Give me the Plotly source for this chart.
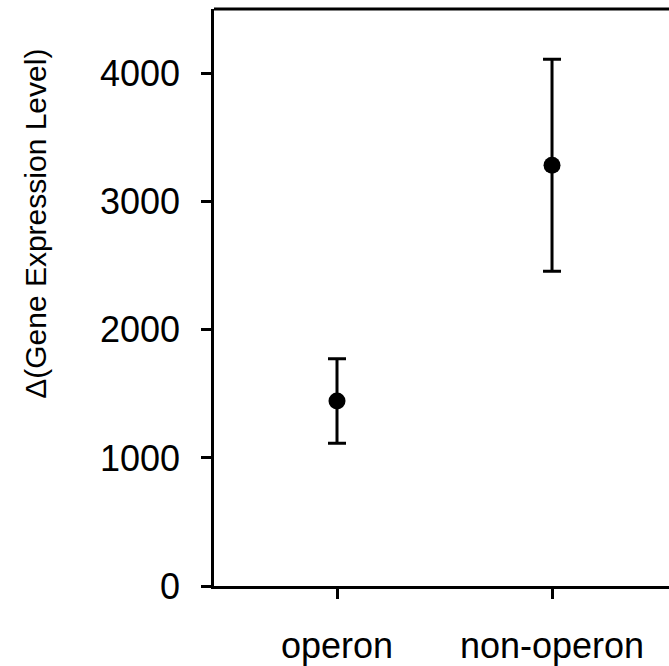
import plotly.graph_objects as go

categories = ["operon", "non-operon"]
means = [1445, 3285]
errors = [330, 827]
y_ticks = [0, 1000, 2000, 3000, 4000]
y_title = "Δ(Gene Expression Level)"

FONT = "Liberation Sans, Arial, Helvetica, sans-serif"

fig = go.Figure()
fig.add_trace(go.Scatter(
    x=[0, 1], y=means,
    mode="markers",
    marker=dict(color="black", size=17),
    error_y=dict(type="data", array=errors, visible=True,
                 color="black", thickness=3, width=9),
    showlegend=False,
))

fig.update_layout(
    width=669, height=666,
    margin=dict(l=214, r=0, t=9, b=77),
    paper_bgcolor="white", plot_bgcolor="white",
    font=dict(family=FONT, color="black"),
    xaxis=dict(
        range=[-0.572, 1.544],
        tickmode="array", tickvals=[0, 1], ticktext=categories,
        showline=True, linecolor="black", linewidth=2.5,
        ticks="outside", ticklen=10, tickwidth=2.5, tickcolor="black",
        tickfont=dict(size=36, family=FONT),
        ticklabelstandoff=16,
        showgrid=False, zeroline=False,
    ),
    yaxis=dict(
        range=[0, 4505],
        tickmode="array", tickvals=y_ticks,
        ticktext=[str(v) for v in y_ticks],
        showline=True, linecolor="black", linewidth=2.5,
        ticks="outside", ticklen=10, tickwidth=2.5, tickcolor="black",
        tickfont=dict(size=36, family=FONT),
        ticklabelstandoff=14,
        showgrid=False, zeroline=False,
    ),
    annotations=[dict(text=y_title, xref="paper", yref="paper",
                      x=-0.393, y=0.628, xanchor="center", yanchor="middle",
                      textangle=-90, showarrow=False,
                      font=dict(size=30, family=FONT, color="black"))],
    shapes=[dict(type="line", xref="paper", yref="paper", x0=0, x1=1, y0=1, y1=1,
                 line=dict(color="black", width=3))],
)

fig.write_html("out.html")
